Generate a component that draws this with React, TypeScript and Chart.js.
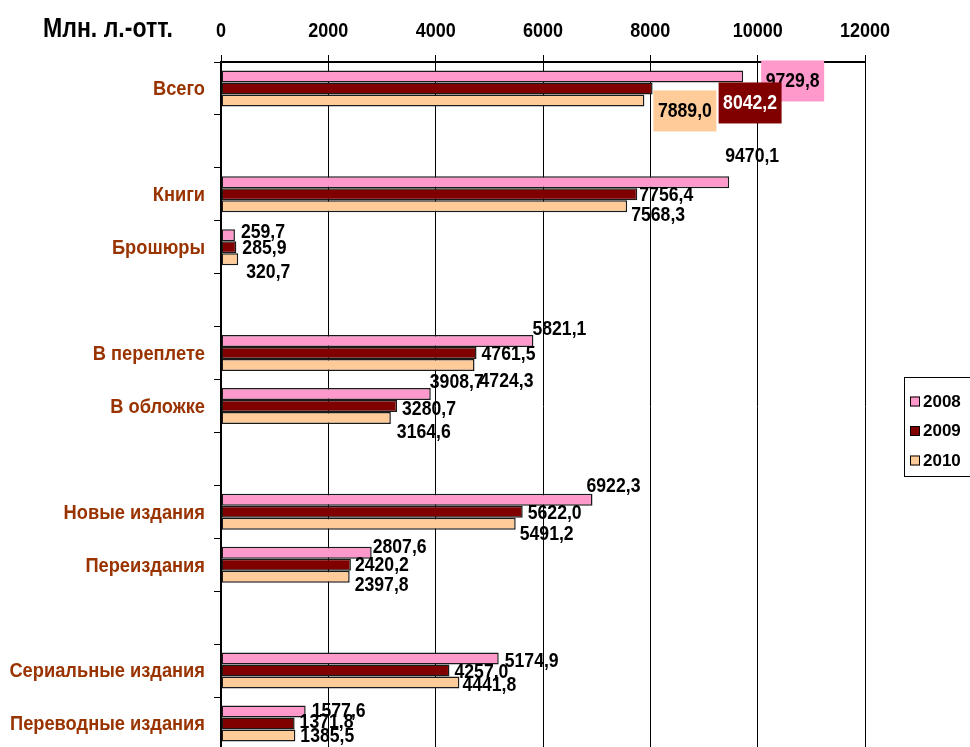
import React, { useEffect, useRef } from 'react';
import { Chart, registerables } from 'chart.js';

Chart.register(...registerables);

// ---------- data ----------
const CATEGORIES = [
  'Всего',
  '',
  'Книги',
  'Брошюры',
  '',
  'В переплете',
  'В обложке',
  '',
  'Новые издания',
  'Переиздания',
  '',
  'Сериальные издания',
  'Переводные издания',
];
const SERIES_NAMES = ['2008', '2009', '2010'];
const VALUES_2008 = [9729.8, null, 9470.1, 259.7, null, 5821.1, 3908.7, null, 6922.3, 2807.6, null, 5174.9, 1577.6];
const VALUES_2009 = [8042.2, null, 7756.4, 285.9, null, 4761.5, 3280.7, null, 5622.0, 2420.2, null, 4257.0, 1371.8];
const VALUES_2010 = [7889.0, null, 7568.3, 320.7, null, 4724.3, 3164.6, null, 5491.2, 2397.8, null, 4441.8, 1385.5];
const X_MIN = 0;
const X_MAX = 12000;
const X_STEP = 2000;
const AXIS_TITLE = 'Млн. л.-отт.';

// ---------- styles ----------
const COLORS = ['#FF99CC', '#800000', '#FFCC99'];
const LABEL_TEXT_COLORS = ['#000000', '#FFFFFF', '#000000'];
const FONT = '"Liberation Sans", Arial, sans-serif';
const CAT_COLOR = '#993300';

// label placement offsets (dx from bar end to label left, dy from bar centre)
const LABEL_DX = [
  [18, 0, -4, 6, 0, -1, -1, 0, -6, 1, 0, 6, 6],
  [66, 0, 2, 6, 0, 5, 5, 0, 5, 4, 0, 5, 5],
  [9, 0, 4, 8, 0, 5, 6, 0, 4, 5, 0, 3, 5],
];
const LABEL_DY = [
  [4.5, 0, -26, -3, 0, -11.5, -12, 0, -14, -5.5, 0, 3, 0],
  [14.5, 0, 1, 1, 0, 1.5, 3, 0, 1, 0, 0, 2, -1],
  [10.5, 0, 9, 13, 0, 16.5, 14, 0, 10, 8, 0, 3, 1],
];
const BOXED_INDEX = 0;
const BOX_W = 63;
const BOX_H = 41;

const fmt = (v: number) => v.toFixed(1).replace('.', ',');

// draw text condensed horizontally around its anchor
function squeezedText(ctx: any, text: string, x: number, y: number, squeeze: number) {
  ctx.save();
  ctx.translate(x, y);
  ctx.scale(squeeze, 1);
  ctx.fillText(text, 0, 0);
  ctx.restore();
}

const labelPlugin = {
  id: 'valueLabels',
  afterDatasetsDraw(chart: any) {
    const ctx = chart.ctx;
    ctx.save();
    ctx.font = `bold 21px ${FONT}`;
    ctx.textBaseline = 'middle';
    chart.data.datasets.forEach((ds: any, d: number) => {
      const meta = chart.getDatasetMeta(d);
      meta.data.forEach((el: any, i: number) => {
        const v = ds.data[i];
        if (v == null) return;
        const text = fmt(v);
        const x = el.x + LABEL_DX[d][i];
        const y = el.y + LABEL_DY[d][i];
        if (i === BOXED_INDEX) {
          ctx.fillStyle = COLORS[d];
          ctx.fillRect(x, y - BOX_H / 2, BOX_W, BOX_H);
          ctx.fillStyle = LABEL_TEXT_COLORS[d];
          ctx.textAlign = 'center';
          squeezedText(ctx, text, x + BOX_W / 2, y, 0.84);
        } else {
          ctx.fillStyle = '#000';
          ctx.textAlign = 'left';
          squeezedText(ctx, text, x, y, 0.84);
        }
      });
    });
    ctx.restore();
  },
};

const decorPlugin = {
  id: 'decor',
  afterDraw(chart: any) {
    const ctx = chart.ctx;
    ctx.save();
    // axis title
    ctx.font = `bold 27px ${FONT}`;
    ctx.fillStyle = '#000';
    ctx.textAlign = 'left';
    ctx.textBaseline = 'alphabetic';
    squeezedText(ctx, AXIS_TITLE, 43, 37, 0.855);

    // x tick labels
    const xs = chart.scales.x;
    ctx.font = `bold 20px ${FONT}`;
    ctx.textAlign = 'center';
    xs.ticks.forEach((t: any) => {
      squeezedText(ctx, String(t.value), xs.getPixelForValue(t.value), 37, 0.9);
    });

    // category labels
    const ys = chart.scales.y;
    ctx.font = `bold 21px ${FONT}`;
    ctx.fillStyle = CAT_COLOR;
    ctx.textAlign = 'right';
    ctx.textBaseline = 'middle';
    CATEGORIES.forEach((c, i) => {
      if (!c) return;
      squeezedText(ctx, c, 205, ys.getPixelForValue(i) + 1, 0.87);
    });

    // legend
    ctx.strokeStyle = '#000';
    ctx.lineWidth = 1;
    ctx.strokeRect(904.5, 377.5, 90, 99);
    const ly = [401.5, 431, 460.5];
    ctx.font = `bold 17px ${FONT}`;
    ctx.textAlign = 'left';
    ctx.textBaseline = 'middle';
    SERIES_NAMES.forEach((name, k) => {
      ctx.fillStyle = COLORS[k];
      ctx.fillRect(910, ly[k] - 5, 10, 10);
      ctx.strokeStyle = '#000';
      ctx.strokeRect(910.5, ly[k] - 4.5, 9, 9);
      ctx.fillStyle = '#000';
      ctx.fillText(name, 923, ly[k] + 0.5);
    });
    ctx.restore();
  },
};

export default function App() {
  const ref = useRef<HTMLCanvasElement | null>(null);

  useEffect(() => {
    if (!ref.current) return;
    const series = [VALUES_2008, VALUES_2009, VALUES_2010];
    const chart = new Chart(ref.current, {
      type: 'bar',
      data: {
        labels: CATEGORIES,
        datasets: series.map((vals, k) => ({
          label: SERIES_NAMES[k],
          data: vals,
          backgroundColor: COLORS[k],
          borderColor: '#1a1a1a',
          borderWidth: 1.5,
          borderSkipped: false,
          categoryPercentage: 0.68,
          barPercentage: 1.0,
        })),
      },
      options: {
        indexAxis: 'y',
        responsive: false,
        animation: false,
        devicePixelRatio: 1,
        layout: { padding: { left: 0, right: 105, top: 0, bottom: 0 } },
        plugins: {
          legend: { display: false },
          tooltip: { enabled: false },
          title: { display: false },
        },
        scales: {
          x: {
            position: 'top',
            min: X_MIN,
            max: X_MAX,
            ticks: { stepSize: X_STEP, display: false },
            grid: { color: '#000', lineWidth: 1, tickLength: 7, drawTicks: true },
            border: { color: '#000', width: 2 },
            afterFit: (s: any) => {
              s.height = 62;
              s.paddingLeft = 0;
              s.paddingRight = 0;
            },
          },
          y: {
            ticks: { display: false, autoSkip: false },
            grid: { drawOnChartArea: false, tickLength: 7, color: '#000', offset: true },
            border: { color: '#000', width: 1.5 },
            afterFit: (s: any) => {
              s.width = 221;
              s.paddingTop = 0;
              s.paddingBottom = 0;
            },
          },
        },
      } as any,
      plugins: [labelPlugin, decorPlugin],
    });
    return () => chart.destroy();
  }, []);

  return (
    <div style={{ position: 'absolute', left: 0, top: 0, width: 970, height: 747, overflow: 'hidden', background: '#fff' }}>
      <canvas ref={ref} width={970} height={750} style={{ display: 'block' }} />
    </div>
  );
}
